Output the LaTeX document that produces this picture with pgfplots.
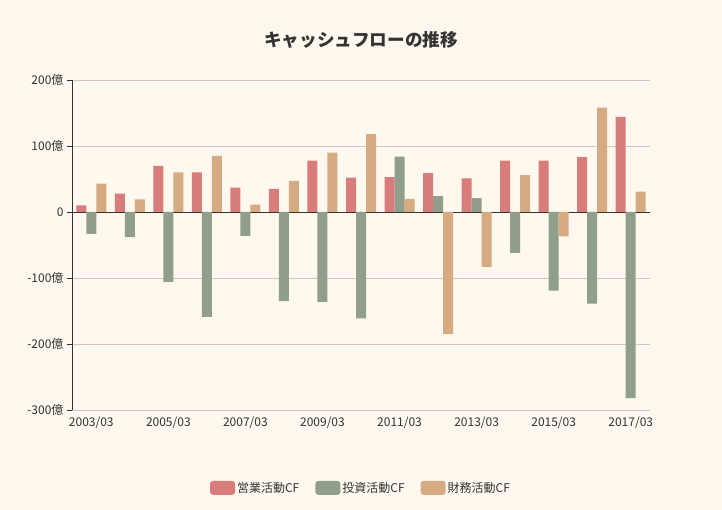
\documentclass[border=0pt]{standalone}
\usepackage{fontspec}
\setmainfont{Noto Sans CJK JP}
\usepackage{pgfplots}
\pgfplotsset{compat=1.18}
\definecolor{bgc}{HTML}{FEF8EF}
\definecolor{c1}{HTML}{D87C7C}
\definecolor{c2}{HTML}{919E8B}
\definecolor{c3}{HTML}{D7AB82}
\definecolor{txt}{HTML}{333333}
\definecolor{gridc}{HTML}{C8C8C4}
\begin{document}
\begin{tikzpicture}
\fill[bgc] (0,0) rectangle (722pt,510pt);
\node[text=txt, font=\fontsize{17.6pt}{20pt}\selectfont\bfseries] at (361pt,470pt) {キャッシュフローの推移};
\begin{axis}[
  at={(72pt,100pt)}, anchor=south west,
  scale only axis, width=578pt, height=330pt,
  ybar=0pt, bar width=10pt,
  xmin=-0.5, xmax=14.5, ymin=-300, ymax=200,
  xtick={0,2,4,6,8,10,12,14},
  xticklabels={2003/03,2005/03,2007/03,2009/03,2011/03,2013/03,2015/03,2017/03},
  ytick={-300,-200,-100,0,100,200},
  yticklabels={-300億,-200億,-100億,0,100億,200億},
  ticklabel style={font=\fontsize{12pt}{13pt}\selectfont, text=txt},
  axis x line*=bottom, axis y line*=left,
  x axis line style={draw=none},
  y axis line style={-, color=txt, line width=0.8pt},
  xtick style={draw=none},
  ytick style={color=txt, line width=0.8pt},
  tick align=outside, major tick length=5pt,
  ymajorgrids, grid style={gridc, line width=0.8pt},
  extra y ticks={0}, extra y tick labels={},
  extra y tick style={grid style={txt, line width=0.8pt}, ytick style={draw=none}},
  xticklabel style={yshift=2pt},
  legend style={at={(0.5,-0.236)}, anchor=center, draw=none, fill=none,
    font=\fontsize{12pt}{13pt}\selectfont, text=txt,
    /tikz/every even column/.append style={column sep=14pt}},
  legend columns=3,
  legend cell align=left,
]
\addplot[fill=c1, draw=none, legend image code/.code={\fill[c1, rounded corners=3pt] (0pt,-7pt) rectangle (25pt,7pt);}]
  coordinates {(0,10) (1,28) (2,70) (3,60) (4,37) (5,35) (6,78) (7,52) (8,53) (9,59) (10,51) (11,78) (12,78) (13,83) (14,144)};
\addplot[fill=c2, draw=none, legend image code/.code={\fill[c2, rounded corners=3pt] (0pt,-7pt) rectangle (25pt,7pt);}]
  coordinates {(0,-33) (1,-38) (2,-106) (3,-159) (4,-36) (5,-135) (6,-136) (7,-161) (8,84) (9,24) (10,21) (11,-62) (12,-119) (13,-139) (14,-282)};
\addplot[fill=c3, draw=none, legend image code/.code={\fill[c3, rounded corners=3pt] (0pt,-7pt) rectangle (25pt,7pt);}]
  coordinates {(0,43) (1,19) (2,60) (3,85) (4,11) (5,47) (6,90) (7,118) (8,20) (9,-185) (10,-83) (11,56) (12,-37) (13,158) (14,31)};
\legend{営業活動CF,投資活動CF,財務活動CF}
\end{axis}
\end{tikzpicture}
\end{document}
